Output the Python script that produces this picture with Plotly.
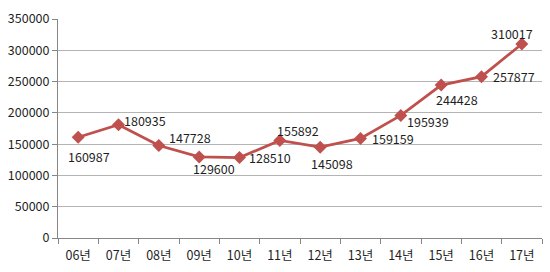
import plotly.graph_objects as go

categories = ["06년", "07년", "08년", "09년", "10년", "11년", "12년", "13년", "14년", "15년", "16년", "17년"]
values = [160987, 180935, 147728, 129600, 128510, 155892, 145098, 159159, 195939, 244428, 257877, 310017]
y_ticks = [0, 50000, 100000, 150000, 200000, 250000, 300000, 350000]

# label offsets in pixels (dx right, dy down)
label_offsets = [(11, 19), (26, -4), (31, -8), (15, 12), (30, 0), (18, -10),
                 (12, 16), (32, 0), (27, 6), (16, 14), (32, 0), (-10, -11)]

FONT = "Noto Sans CJK KR"
LINE = "#C0504D"
TXT = "#1F1F1F"
FS = 12.5

fig = go.Figure()
fig.add_trace(go.Scatter(
    x=categories, y=values, mode="lines+markers",
    line=dict(color=LINE, width=2.75),
    marker=dict(symbol="diamond", size=10, color=LINE),
    hoverinfo="skip",
))

annotations = []
for c, v, (dx, dy) in zip(categories, values, label_offsets):
    annotations.append(dict(
        x=c, y=v, text=str(v), showarrow=False,
        xshift=dx, yshift=-dy,
        font=dict(family=FONT, size=FS, color=TXT),
    ))

fig.update_layout(
    width=550, height=272,
    margin=dict(l=56, r=8, t=10, b=34, pad=0),
    paper_bgcolor="white", plot_bgcolor="white",
    showlegend=False,
    font=dict(family=FONT, size=FS, color=TXT),
    annotations=annotations,
    xaxis=dict(
        type="category", range=[-0.5, 11.5],
        showline=True, linecolor="#868686", linewidth=1,
        ticks="outside", tickson="boundaries", ticklen=5, tickcolor="#868686",
        ticklabelstandoff=6,
        showgrid=False, tickfont=dict(family=FONT, size=FS, color=TXT),
        fixedrange=True,
    ),
    yaxis=dict(
        range=[0, 350000.01], tickvals=y_ticks, tickformat="d",
        showline=True, linecolor="#868686", linewidth=1,
        ticks="outside", ticklen=5, tickcolor="#868686",
        ticklabeloverflow="allow",
        showgrid=True, gridcolor="#B4B4B4", gridwidth=1,
        zeroline=False,
        tickfont=dict(family=FONT, size=FS, color=TXT),
        fixedrange=True,
    ),
)

fig.write_html("out.html")
